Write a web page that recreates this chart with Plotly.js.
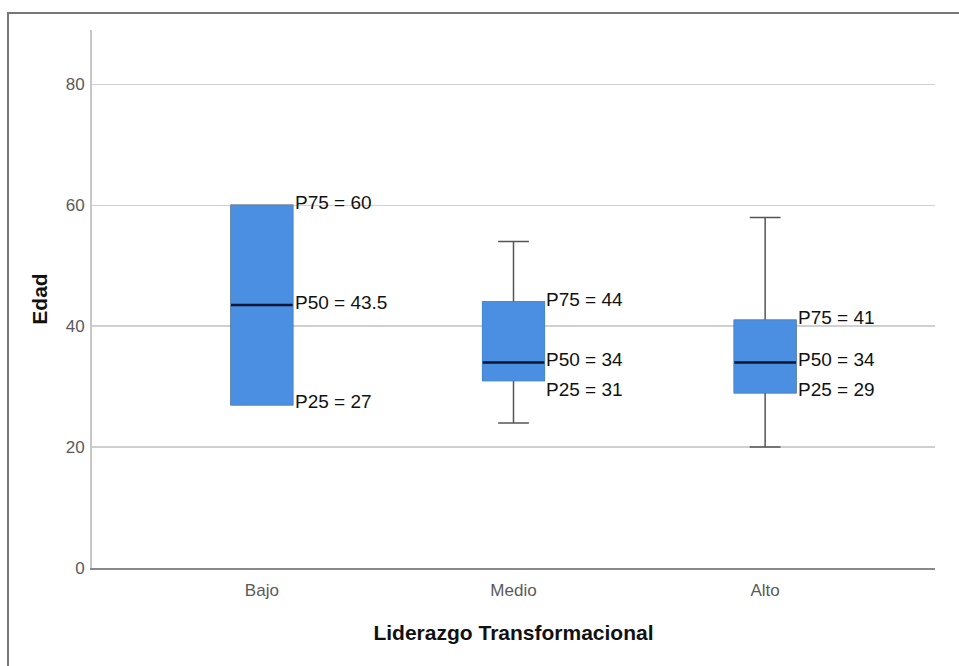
<!DOCTYPE html>
<html>
<head>
<meta charset="utf-8">
<script src="https://cdn.plot.ly/plotly-3.0.1.min.js"></script>
<style>
  html, body { margin: 0; padding: 0; background: #fff; }
  #chart { width: 959px; height: 666px; }
  #frame { position: absolute; left: 7px; top: 12px; width: 960px; height: 660px;
           border-top: 2px solid #777; border-left: 2px solid #777; pointer-events: none; }
</style>
</head>
<body>
<div id="chart"></div>
<div id="frame"></div>
<script>
const categories = ["Bajo", "Medio", "Alto"];
const minVals = [27, 24, 20];
const p25 = [27, 31, 29];
const p50 = [43.5, 34, 34];
const p75 = [60, 44, 41];
const maxVals = [60, 54, 58];
const yTicks = [0, 20, 40, 60, 80];

const blue = "#4a8fe2";
const boxW = 0.245;

const whisker = {
  type: "box", x: categories, q1: p25, median: p50, q3: p75,
  lowerfence: minVals, upperfence: maxVals,
  width: boxW, whiskerwidth: 0.5, boxpoints: false,
  fillcolor: blue, line: { color: "#555555", width: 1.5 },
  hoverinfo: "skip", showlegend: false
};
const cover = {
  type: "box", x: categories, q1: p25, median: p50, q3: p75,
  lowerfence: p25, upperfence: p75,
  width: boxW, whiskerwidth: 0, boxpoints: false,
  fillcolor: blue, line: { color: blue, width: 1 },
  hoverinfo: "skip", showlegend: false
};
const medianLine = {
  type: "box", x: categories, q1: p50, median: p50, q3: p50,
  lowerfence: p50, upperfence: p50,
  width: boxW, whiskerwidth: 0, boxpoints: false,
  fillcolor: "rgba(0,0,0,0)", line: { color: "#0b1630", width: 2.5 },
  hoverinfo: "skip", showlegend: false
};

const labelFont = { family: "Liberation Sans Narrow, Arial Narrow, Liberation Sans, sans-serif", size: 19, color: "#111" };
const annotations = [];
categories.forEach((c, i) => {
  const xPos = i + boxW / 2;
  const p25Label = Math.min(p25[i], p50[i] - 5);
  const items = [["P75", p75[i], p75[i]], ["P50", p50[i], p50[i]], ["P25", p25[i], p25Label]];
  items.forEach(([name, v, yv]) => {
    annotations.push({
      x: xPos, y: yv, xref: "x", yref: "y", text: name + " = " + v,
      showarrow: false, xanchor: "left", yanchor: "middle", xshift: 0, yshift: 3,
      font: labelFont
    });
  });
});

const tickFont = { family: "Liberation Sans, Arial, sans-serif", size: 17, color: "#5a5a5a" };

const layout = {
  width: 959, height: 666,
  margin: { l: 92, r: 24, t: 30, b: 98 },
  paper_bgcolor: "#fff", plot_bgcolor: "#fff",
  boxmode: "overlay",
  showlegend: false,
  xaxis: {
    type: "category", categoryarray: categories, range: [-0.675, 2.675],
    showgrid: false, zeroline: false, showline: true, linecolor: "#888", linewidth: 2,
    ticks: "", ticklabelstandoff: 6,
    tickfont: tickFont,
    title: { text: "Liderazgo Transformacional", standoff: 26,
             font: { family: "Liberation Sans, Arial, sans-serif", size: 21, color: "#111", weight: "bold" } }
  },
  yaxis: {
    range: [0, 89], tickvals: yTicks, ticktext: yTicks.map(String),
    showgrid: true, gridcolor: "#d0d0d0", gridwidth: 1.5,
    zeroline: false, showline: true, linecolor: "#c8c8c8", linewidth: 2,
    ticks: "", ticklabelstandoff: 2,
    tickfont: tickFont,
    title: { text: "Edad", standoff: 12,
             font: { family: "Liberation Sans, Arial, sans-serif", size: 21, color: "#111", weight: "bold" } }
  },
  annotations: annotations
};

Plotly.newPlot("chart", [whisker, cover, medianLine], layout, { staticPlot: true, displayModeBar: false });
</script>
</body>
</html>
